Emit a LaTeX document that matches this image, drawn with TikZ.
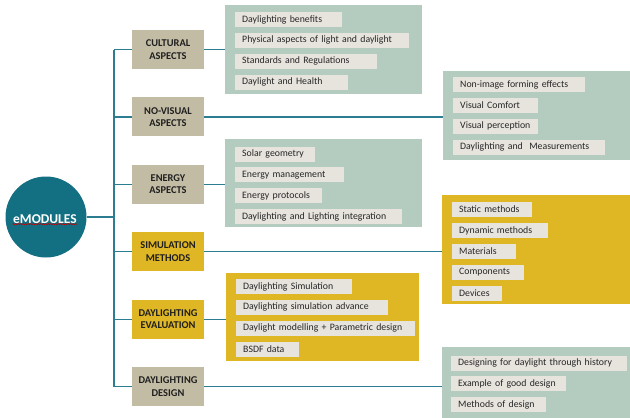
\documentclass[tikz,border=0pt]{standalone}
\usepackage{fontspec}
\setmainfont{Carlito}
\usetikzlibrary{positioning,decorations.pathmorphing}
\definecolor{modteal}{HTML}{136F82}
\definecolor{modline}{HTML}{2C7D92}
\definecolor{modtaupe}{HTML}{C3BCA5}
\definecolor{modgold}{HTML}{DFB624}
\definecolor{modsage}{HTML}{B4CCC0}
\definecolor{moditem}{HTML}{E7E4DE}

\begin{document}
\begin{tikzpicture}[x=1pt,y=-1pt,node distance=28pt,
 hub/.style={circle,fill=modteal,minimum size=81pt,inner sep=0pt},
 cat/.style={fill=modtaupe,minimum width=72pt,minimum height=39pt,inner sep=2pt,align=center,text=black!88,font=\fontsize{10.4}{12.4}\selectfont\bfseries},
 catgold/.style={cat,fill=modgold},
 panel/.style={fill=modsage,anchor=north west,inner sep=0pt},
 panelgold/.style={panel,fill=modgold},
 item/.style={fill=moditem,anchor=west,inner xsep=7pt,inner ysep=0pt,minimum height=15pt,text width=#1,align=left,text=black!85,font=\fontsize{9.8}{11}\selectfont},
 link/.style={draw=modline,line width=1.2pt}]
\useasboundingbox[fill=white] (0,0) rectangle (630,418);

% hub and the six modules
\node[hub] (hub) at (46,217) {};
\node[text=white,inner sep=0.5pt,font=\fontsize{13.5}{15}\selectfont\bfseries] (hubtxt) at (45,219) {eMODULES};
\draw[red!75!black,line width=0.5pt,decorate,decoration={snake,amplitude=0.6pt,segment length=2.5pt}] (hubtxt.south west) -- (hubtxt.south east);

\node[cat] (cult) at (168,49.5) {CULTURAL\\ASPECTS};
\node[cat,below=of cult] (novis) {NO-VISUAL\\ASPECTS};
\node[cat,below=of novis] (enrg) {ENERGY\\ASPECTS};
\node[catgold,below=of enrg] (simu) {SIMULATION\\METHODS};
\node[catgold,below=of simu] (eval) {DAYLIGHTING\\EVALUATION};
\node[cat,below=of eval] (dsgn) {DAYLIGHTING\\DESIGN};

% panels
\node[panel,minimum width=197pt,minimum height=89pt] (cpan) at (225,5) {};
\node[panel,minimum width=190pt,minimum height=89pt] (npan) at (443,71) {};
\node[panel,minimum width=197pt,minimum height=88pt] (epan) at (225,139) {};
\node[panelgold,minimum width=190pt,minimum height=109pt] (span) at (442,195) {};
\node[panelgold,minimum width=193pt,minimum height=88pt] (vpan) at (226,273) {};
\node[panel,minimum width=190pt,minimum height=75pt] (dpan) at (442,347) {};

% cultural
\node[item=93pt] (c1) at (235,19.5) {Daylighting benefits};
\node[item=160pt,below right=5.5pt and 0pt of c1.south west] (c2) {Physical aspects of light and daylight};
\node[item=128pt,below right=5.5pt and 0pt of c2.south west] (c3) {Standards and Regulations};
\node[item=99pt,below right=5.5pt and 0pt of c3.south west] (c4) {Daylight and Health};
% no-visual
\node[item=118pt] (n1) at (453,84.5) {Non-image forming effects};
\node[item=71pt,below right=5.5pt and 0pt of n1.south west] (n2) {Visual Comfort};
\node[item=71pt,below right=5.5pt and 0pt of n2.south west] (n3) {Visual perception};
\node[item=138pt,below right=5.5pt and 0pt of n3.south west] (n4) {Daylighting and~ Measurements};
% energy
\node[item=66pt] (e1) at (235,154) {Solar geometry};
\node[item=95pt,below right=5.5pt and 0pt of e1.south west] (e2) {Energy management};
\node[item=73pt,below right=5.5pt and 0pt of e2.south west] (e3) {Energy protocols};
\node[item=153pt,below right=5.5pt and 0pt of e3.south west] (e4) {Daylighting and Lighting integration};
% simulation
\node[item=66pt] (s1) at (452,209.5) {Static methods};
\node[item=82pt,below right=5.5pt and 0pt of s1.south west] (s2) {Dynamic methods};
\node[item=50pt,below right=5.5pt and 0pt of s2.south west] (s3) {Materials};
\node[item=58pt,below right=5.5pt and 0pt of s3.south west] (s4) {Components};
\node[item=36pt,below right=5.5pt and 0pt of s4.south west] (s5) {Devices};
% evaluation
\node[item=102pt] (v1) at (236,286.5) {Daylighting Simulation};
\node[item=138pt,below right=5.5pt and 0pt of v1.south west] (v2) {Daylighting simulation advance};
\node[item=165pt,below right=5.5pt and 0pt of v2.south west] (v3) {Daylight modelling + Parametric design};
\node[item=49pt,below right=5.5pt and 0pt of v3.south west] (v4) {BSDF data};
% design
\node[item=162pt] (d1) at (451,363) {Designing for daylight through history};
\node[item=101pt,below right=5.5pt and 0pt of d1.south west] (d2) {Example of good design};
\node[item=81pt,below right=5.5pt and 0pt of d2.south west] (d3) {Methods of design};

% connectors
\coordinate (tk) at (114,0);
\draw[link] (tk |- cult) -- (tk |- dsgn);
\draw[link] (hub.east) -- (hub -| tk);
\draw[link] (tk |- cult) -- (cult.west); \draw[link] (tk |- novis) -- (novis.west);
\draw[link] (tk |- enrg) -- (enrg.west); \draw[link] (tk |- simu) -- (simu.west);
\draw[link] (tk |- eval) -- (eval.west); \draw[link] (tk |- dsgn) -- (dsgn.west);
\draw[link] (cult.east) -- (cult -| cpan.west); \draw[link] (novis.east) -- (novis -| npan.west);
\draw[link] (enrg.east) -- (enrg -| epan.west); \draw[link] (simu.east) -- (simu -| span.west);
\draw[link] (eval.east) -- (eval -| vpan.west); \draw[link] (dsgn.east) -- (dsgn -| dpan.west);
\end{tikzpicture}
\end{document}
